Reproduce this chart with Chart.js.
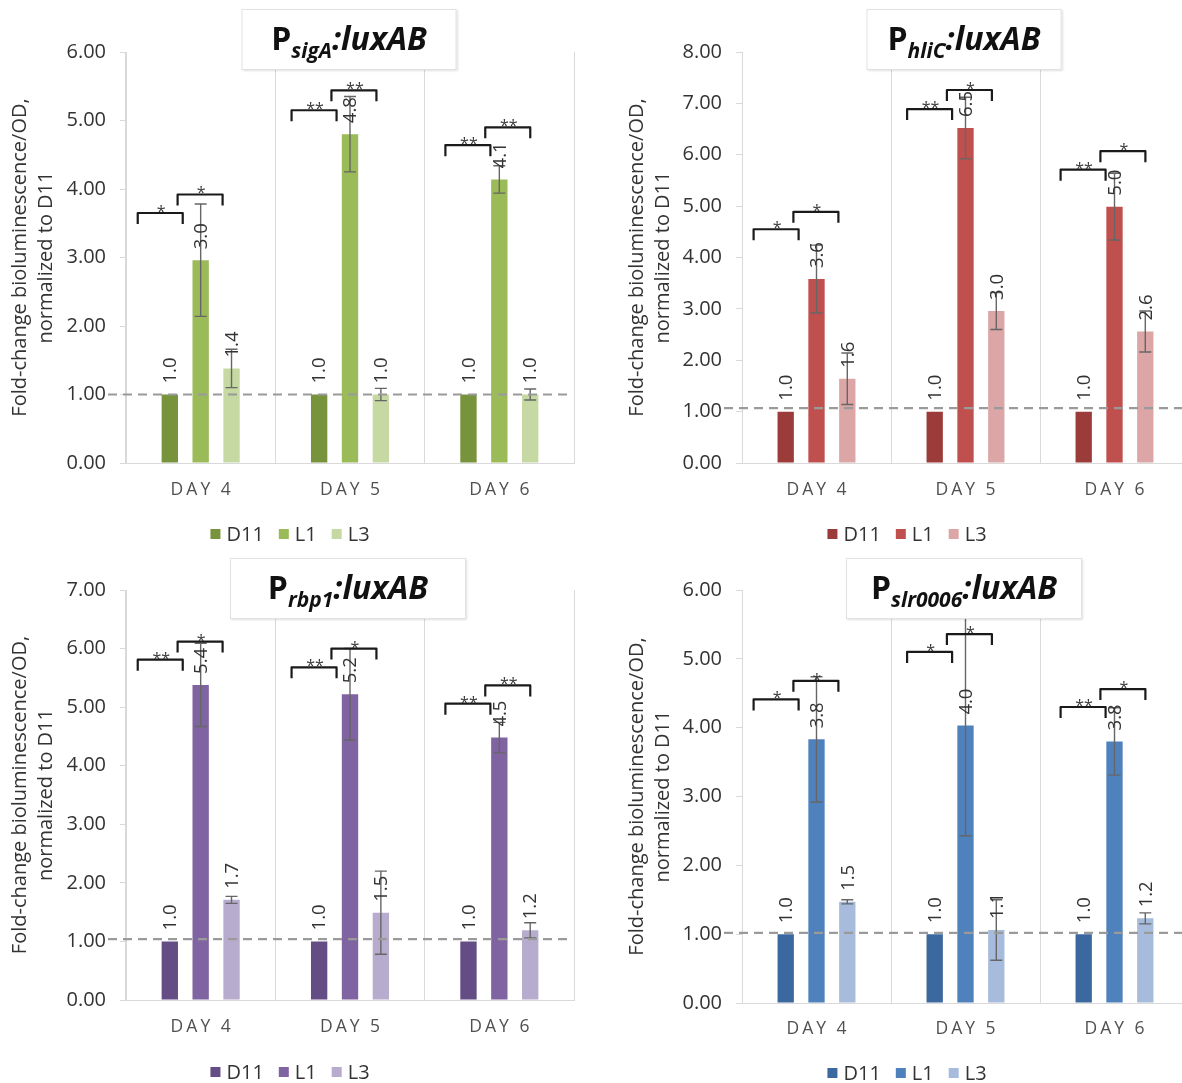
<!DOCTYPE html>
<html>
<head>
<meta charset="utf-8">
<script src="https://cdn.jsdelivr.net/npm/chart.js@4.4.1/dist/chart.umd.min.js"></script>
<style>
  html, body { margin: 0; padding: 0; background: #fff; }
  body { width: 1182px; height: 1083px; position: relative; overflow: hidden; font-family: "Open Sans", "Liberation Sans", sans-serif; }
  .panel { position: absolute; overflow: hidden; }
  .panel canvas { position: absolute; left: 0; top: 0; }
  .title {
    position: absolute; height: 61px; transform: translateX(-50%);
    background: #fff; border: 1px solid #e2e2e2; box-shadow: 1px 1px 2px rgba(0,0,0,0.12);
    white-space: nowrap; box-sizing: border-box; text-align: center;
    line-height: 56px; font-weight: 700; font-size: 32px; color: #111;
  }
  .title sub { font-size: 21px; font-style: italic; vertical-align: -8px; line-height: 0; }
  .title i { font-style: italic; }
</style>
</head>
<body>

<div class="panel" id="pSigA" style="left:0;top:0;width:590px;height:550px;">
  <canvas id="cSigA" width="580" height="550"></canvas>
  <div class="title" style="left:349px;top:9px;width:215px;">P<sub>sigA</sub><i>:luxAB</i></div>
</div>
<div class="panel" id="pHliC" style="left:590px;top:0;width:592px;height:550px;">
  <canvas id="cHliC" width="634" height="550"></canvas>
  <div class="title" style="left:374px;top:9px;width:195px;">P<sub>hliC</sub><i>:luxAB</i></div>
</div>
<div class="panel" id="pRbp1" style="left:0;top:538px;width:590px;height:545px;">
  <canvas id="cRbp1" width="580" height="545"></canvas>
  <div class="title" style="left:348px;top:20px;width:236px;">P<sub>rbp1</sub><i>:luxAB</i></div>
</div>
<div class="panel" id="pSlr" style="left:590px;top:538px;width:592px;height:545px;">
  <canvas id="cSlr" width="634" height="545"></canvas>
  <div class="title" style="left:374px;top:20px;width:236px;">P<sub>slr0006</sub><i>:luxAB</i></div>
</div>

<script>
// ---- shared categories / series ----
const days = ['DAY 4', 'DAY 5', 'DAY 6'];
const strains = ['D11', 'L1', 'L3'];
const yTitle = ['Fold-change bioluminescence/OD,', 'normalized to D11'];

// ---- PsigA:luxAB ----
const sigA_D11 = [1.0, 1.0, 1.0];
const sigA_L1  = [2.96, 4.80, 4.14];
const sigA_L3  = [1.38, 1.00, 1.00];
const sigA_errD11 = [0, 0, 0];
const sigA_errL1  = [0.82, 0.55, 0.20];
const sigA_errL3  = [0.28, 0.09, 0.08];
const sigA_max = 6;
const sigA_ref = 1.0;
// significance: [day, pair (0 = D11-L1, 1 = L1-L3), bracket level, stars]
const sigA_sig = [[0,0,3.65,'*'],[0,1,3.92,'*'],[1,0,5.15,'**'],[1,1,5.44,'**'],[2,0,4.64,'**'],[2,1,4.90,'**']];

// ---- PhliC:luxAB ----
const hliC_D11 = [1.0, 1.0, 1.0];
const hliC_L1  = [3.58, 6.52, 4.99];
const hliC_L3  = [1.64, 2.96, 2.56];
const hliC_errD11 = [0, 0, 0];
const hliC_errL1  = [0.66, 0.60, 0.65];
const hliC_errL3  = [0.50, 0.36, 0.40];
const hliC_max = 8;
const hliC_ref = 1.07;
const hliC_sig = [[0,0,4.55,'*'],[0,1,4.89,'*'],[1,0,6.89,'**'],[1,1,7.26,'*'],[2,0,5.71,'**'],[2,1,6.07,'*']];

// ---- Prbp1:luxAB ----
const rbp1_D11 = [1.0, 1.0, 1.0];
const rbp1_L1  = [5.38, 5.22, 4.48];
const rbp1_L3  = [1.71, 1.49, 1.19];
const rbp1_errD11 = [0, 0, 0];
const rbp1_errL1  = [0.71, 0.78, 0.26];
const rbp1_errL3  = [0.06, 0.71, 0.13];
const rbp1_max = 7;
const rbp1_ref = 1.04;
const rbp1_sig = [[0,0,5.81,'**'],[0,1,6.12,'*'],[1,0,5.68,'**'],[1,1,6.00,'*'],[2,0,5.06,'**'],[2,1,5.37,'**']];

// ---- Pslr0006:luxAB ----
const slr_D11 = [1.0, 1.0, 1.0];
const slr_L1  = [3.83, 4.03, 3.80];
const slr_L3  = [1.47, 1.06, 1.23];
const slr_errD11 = [0, 0, 0];
const slr_errL1  = [0.91, 1.60, 0.49];
const slr_errL3  = [0.03, 0.44, 0.08];
const slr_max = 6;
const slr_ref = 1.02;
const slr_sig = [[0,0,4.41,'*'],[0,1,4.68,'*'],[1,0,5.10,'*'],[1,1,5.36,'*'],[2,0,4.30,'**'],[2,1,4.56,'*']];

const FONT = '"Open Sans", "Liberation Sans", sans-serif';
const TEXT = '#333333';

// Error bars, reference line, value labels, significance brackets, day labels, legend
const decorations = {
  id: 'decorations',
  afterDatasetsDraw(chart, args, o) {
    const ctx = chart.ctx, ys = chart.scales.y, area = chart.chartArea;
    const metas = chart.data.datasets.map((d, i) => chart.getDatasetMeta(i));

    // error bars
    ctx.save();
    ctx.strokeStyle = '#666666';
    ctx.lineWidth = 1.4;
    chart.data.datasets.forEach((ds, di) => {
      metas[di].data.forEach((bar, i) => {
        const e = ds.errors[i];
        if (!e) return;
        const v = ds.data[i];
        const yt = ys.getPixelForValue(v + e), yb = ys.getPixelForValue(v - e);
        ctx.beginPath();
        ctx.moveTo(bar.x, yt); ctx.lineTo(bar.x, yb);
        ctx.moveTo(bar.x - 6, yt); ctx.lineTo(bar.x + 6, yt);
        ctx.moveTo(bar.x - 6, yb); ctx.lineTo(bar.x + 6, yb);
        ctx.stroke();
      });
    });
    ctx.restore();

    // dashed reference line
    ctx.save();
    ctx.strokeStyle = '#9a9a9a';
    ctx.lineWidth = 2.2;
    ctx.setLineDash([9, 6]);
    const ry = ys.getPixelForValue(o.ref);
    ctx.beginPath();
    ctx.moveTo(area.left - 18, ry);
    ctx.lineTo(area.right - 4, ry);
    ctx.stroke();
    ctx.restore();

    // rotated value labels
    ctx.save();
    ctx.fillStyle = TEXT;
    ctx.font = '18.5px ' + FONT;
    ctx.textAlign = 'left';
    ctx.textBaseline = 'middle';
    chart.data.datasets.forEach((ds, di) => {
      metas[di].data.forEach((bar, i) => {
        ctx.save();
        ctx.translate(bar.x, ys.getPixelForValue(ds.data[i]) - 11);
        ctx.rotate(-Math.PI / 2);
        ctx.fillText(ds.data[i].toFixed(1), 0, 1);
        ctx.restore();
      });
    });
    ctx.restore();

    // significance brackets
    ctx.save();
    ctx.strokeStyle = '#1a1a1a';
    ctx.lineWidth = 2.2;
    ctx.lineJoin = 'round';
    ctx.fillStyle = '#3a3a3a';
    ctx.font = '16px ' + FONT;
    ctx.textAlign = 'center';
    ctx.textBaseline = 'alphabetic';
    o.sig.forEach(([day, pair, level, stars]) => {
      const a = metas[pair].data[day], b = metas[pair + 1].data[day];
      const cx = (a.x + b.x) / 2 + (pair === 0 ? -25 : -16) + day * 4.5;
      const ly = ys.getPixelForValue(level);
      ctx.beginPath();
      ctx.moveTo(cx - 22.5, ly + 11);
      ctx.lineTo(cx - 22.5, ly);
      ctx.lineTo(cx + 22.5, ly);
      ctx.lineTo(cx + 22.5, ly + 11);
      ctx.stroke();
      ctx.fillText(stars, cx + 1, ly + 4);
    });
    ctx.restore();
  },
  afterDraw(chart, args, o) {
    const ctx = chart.ctx, xs = chart.scales.x;
    // spaced category labels
    ctx.save();
    ctx.fillStyle = '#505050';
    ctx.font = '17.5px ' + FONT;
    ctx.textAlign = 'center';
    ctx.textBaseline = 'middle';
    if ('letterSpacing' in ctx) ctx.letterSpacing = '3px';
    chart.data.labels.forEach((lab, i) => {
      ctx.fillText(lab, xs.getPixelForValue(i) + 1.5, o.dayY);
    });
    ctx.restore();

    // legend
    ctx.save();
    ctx.font = '20px ' + FONT;
    ctx.textBaseline = 'middle';
    ctx.textAlign = 'left';
    const items = chart.data.datasets.map(d => ({ label: d.label, color: d.backgroundColor, w: 10 + 6 + ctx.measureText(d.label).width }));
    const gap = 15;
    const total = items.reduce((s, it) => s + it.w, 0) + gap * (items.length - 1);
    let x = chart.width / 2 - total / 2;
    items.forEach(it => {
      ctx.fillStyle = it.color;
      ctx.fillRect(x, o.legendY - 5, 10, 10);
      ctx.fillStyle = TEXT;
      ctx.fillText(it.label, x + 16, o.legendY + 1);
      x += it.w + gap;
    });
    ctx.restore();
  }
};

function panel(id, g, series, errs, colors, yMax, ref, sig) {
  const datasets = strains.map((s, i) => ({
    label: s,
    data: series[i],
    errors: errs[i],
    backgroundColor: colors[i],
    borderWidth: 0
  }));
  return new Chart(document.getElementById(id), {
    type: 'bar',
    data: { labels: days, datasets },
    options: {
      responsive: false,
      animation: false,
      devicePixelRatio: 1,
      layout: { padding: { left: 0, top: g.top, right: g.w - g.right, bottom: 0 } },
      datasets: { bar: { categoryPercentage: 0.62, barPercentage: 0.53 } },
      plugins: {
        legend: { display: false },
        tooltip: { enabled: false },
        decorations: { ref, sig, dayY: g.dayY, legendY: g.legendY }
      },
      scales: {
        x: {
          offset: true,
          grid: { offset: true, color: '#d9d9d9', lineWidth: 1, drawTicks: false },
          border: { color: '#d9d9d9', width: 1 },
          ticks: { display: false },
          afterFit(s) { s.height = g.h - g.bottom; }
        },
        y: {
          min: 0, max: yMax,
          ticks: {
            stepSize: 1,
            padding: 14,
            color: TEXT,
            font: { family: FONT, size: 20 },
            callback: v => Number(v).toFixed(2)
          },
          grid: { drawOnChartArea: false, drawTicks: true, tickLength: 6, color: '#d9d9d9' },
          border: { color: '#d9d9d9', width: 1 },
          title: {
            display: true,
            text: yTitle,
            color: TEXT,
            font: { family: FONT, size: 20, lineHeight: '26px' },
            padding: { top: g.titlePad, bottom: 0 }
          },
          afterFit(s) { s.width = g.left; }
        }
      }
    },
    plugins: [decorations]
  });
}

const green  = ['#77933c', '#9bbb59', '#c6d9a2'];
const red    = ['#9c3c3a', '#c0504d', '#dba6a5'];
const purple = ['#644d85', '#8064a2', '#b8acce'];
const blue   = ['#3c68a0', '#4f81bd', '#a7bcdc'];

panel('cSigA', { w: 580, h: 550, left: 126, top: 52, right: 574, bottom: 463, titlePad: 7, dayY: 490, legendY: 534 },
  [sigA_D11, sigA_L1, sigA_L3], [sigA_errD11, sigA_errL1, sigA_errL3], green, sigA_max, sigA_ref, sigA_sig);
panel('cHliC', { w: 634, h: 550, left: 152, top: 52, right: 599, bottom: 463, titlePad: 34, dayY: 490, legendY: 534 },
  [hliC_D11, hliC_L1, hliC_L3], [hliC_errD11, hliC_errL1, hliC_errL3], red, hliC_max, hliC_ref, hliC_sig);
panel('cRbp1', { w: 580, h: 545, left: 126, top: 52, right: 574, bottom: 462, titlePad: 7, dayY: 489, legendY: 534 },
  [rbp1_D11, rbp1_L1, rbp1_L3], [rbp1_errD11, rbp1_errL1, rbp1_errL3], purple, rbp1_max, rbp1_ref, rbp1_sig);
panel('cSlr', { w: 634, h: 545, left: 152, top: 52, right: 599, bottom: 465, titlePad: 34, dayY: 491, legendY: 535 },
  [slr_D11, slr_L1, slr_L3], [slr_errD11, slr_errL1, slr_errL3], blue, slr_max, slr_ref, slr_sig);
</script>
</body>
</html>
